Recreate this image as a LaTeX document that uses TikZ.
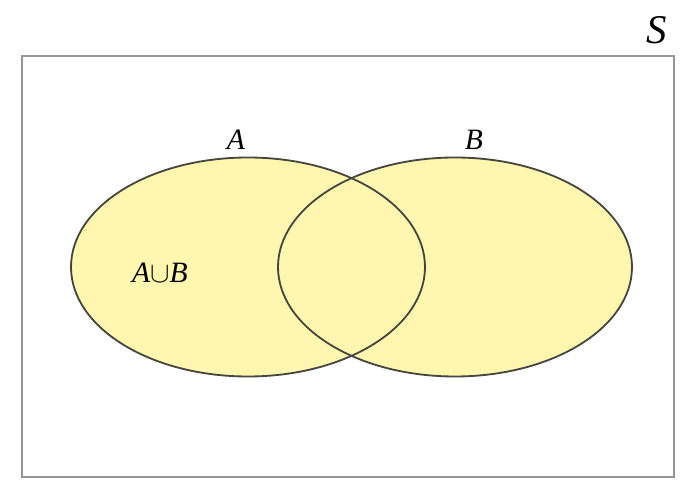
\documentclass[tikz,border=0pt]{standalone}
\usepackage{fontspec}
\setmainfont{Liberation Serif}
\usepackage{xcolor}
\definecolor{setfill}{RGB}{255,247,176}
\definecolor{setline}{RGB}{70,70,62}
\definecolor{boxline}{RGB}{150,150,150}
\usepackage{tikz}
\usetikzlibrary{positioning}

\begin{document}
\begin{tikzpicture}[
  x=0.025cm, y=-0.025cm,
  setshape/.style={draw=setline, line width=1.3pt},
  universe/.style={draw=boxline, line width=1.6pt},
  setlabel/.style={inner sep=0pt, font=\fontsize{21}{25}\selectfont\itshape}
]
\useasboundingbox (0,0) rectangle (699,497);
\coordinate (ca) at (248,267);
\coordinate (cb) at (455,267);
% universe box
\draw[universe] (22,56) rectangle (674,477);
\node[setlabel, font=\fontsize{29}{33}\selectfont\itshape] (s) at (657,30) {S};
% the two sets
\fill[setfill] (ca) ellipse [x radius=177, y radius=109.5];
\fill[setfill] (cb) ellipse [x radius=177, y radius=109.5];
\draw[setshape] (ca) ellipse [x radius=177, y radius=109.5];
\draw[setshape] (cb) ellipse [x radius=177, y radius=109.5];
\node[setlabel] (a) at (236,140) {A};
\node[setlabel] (b) at (474,140) {B};
\node[setlabel] (aub) at (160,273) {A$\cup$B};
\end{tikzpicture}
\end{document}
